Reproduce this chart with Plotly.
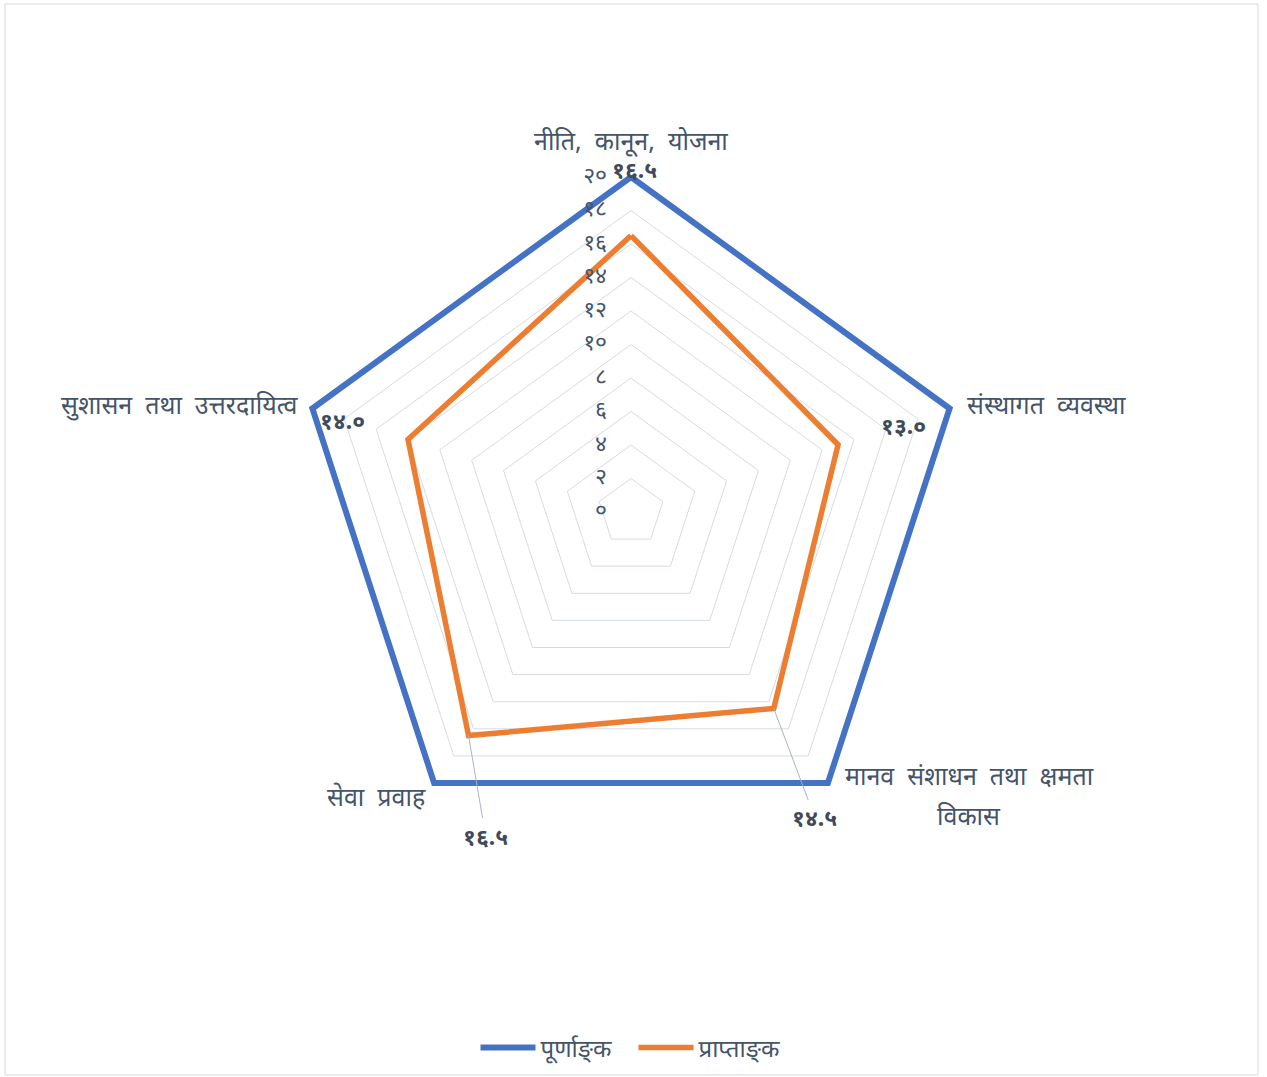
import math
import plotly.graph_objects as go

# ---------------- data ----------------
categories = ["नीति, कानून, योजना", "संस्थागत व्यवस्था", "मानव संशाधन तथा क्षमता विकास",
              "सेवा प्रवाह", "सुशासन तथा उत्तरदायित्व"]
full_marks = [20, 20, 20, 20, 20]
obtained = [16.5, 13.0, 14.5, 16.5, 14.0]
series_names = ["पूर्णाङ्\u200cक", "प्राप्ताङ्\u200cक"]
radial_ticks = list(range(0, 21, 2))

DEV = str.maketrans("0123456789", "०१२३४५६७८९")
def dev(s):
    return str(s).translate(DEV)

def wide(s):
    return s.replace(" ", "\u00a0\u00a0")

# ---------------- layout constants ----------------
W, H = 1267, 1077
CX, CY, R = 631, 512, 335          # R = pixel radius of value 20
RMAX = 20.4                         # small headroom so the outer line is not clipped
RD = R * RMAX / 20
FONT = "Noto Sans, Lato, sans-serif"
TXT = "#44546A"

def px(x, y):
    return x / W, 1 - y / H

fig = go.Figure()
th = categories + [categories[0]]
fig.add_trace(go.Scatterpolar(r=full_marks + [full_marks[0]], theta=th, mode="lines",
                              name=series_names[0], cliponaxis=False,
                              line=dict(color="#4472C4", width=6)))
fig.add_trace(go.Scatterpolar(r=obtained + [obtained[0]], theta=th, mode="lines",
                              name=series_names[1], cliponaxis=False,
                              line=dict(color="#ED7D31", width=5.5)))
# radial tick labels drawn on top of the lines
fig.add_trace(go.Scatterpolar(r=[max(t, 0.01) for t in radial_ticks],
                              theta=[categories[0]] * len(radial_ticks),
                              mode="text",
                              text=[dev(t) + "\u00a0\u00a0\u00a0\u00a0" for t in radial_ticks],
                              textposition="middle left", cliponaxis=False,
                              textfont=dict(size=23, color=TXT, family=FONT),
                              showlegend=False, hoverinfo="skip"))

dx0, dx1 = (CX - RD) / W, (CX + RD) / W
dy0, dy1 = 1 - (CY + RD) / H, 1 - (CY - RD) / H

fig.update_layout(
    width=W, height=H, margin=dict(l=0, r=0, t=0, b=0),
    paper_bgcolor="white", plot_bgcolor="white",
    font=dict(family=FONT, color=TXT),
    polar=dict(
        domain=dict(x=[dx0, dx1], y=[dy0, dy1]),
        bgcolor="rgba(0,0,0,0)",
        gridshape="linear",
        radialaxis=dict(range=[0, RMAX], tickvals=radial_ticks, showticklabels=False,
                        angle=90, showline=False, ticks="", gridcolor="#D6DCE4", gridwidth=1,
                        layer="below traces"),
        angularaxis=dict(rotation=90, direction="clockwise", showgrid=False,
                         showline=False, ticks="",
                         layer="below traces", showticklabels=False),
    ),
    legend=dict(orientation="h", x=0.5, xanchor="center", y=1 - 1048 / H, yanchor="middle",
                font=dict(size=24, color=TXT, family=FONT), itemwidth=55,
                entrywidth=88, entrywidthmode="pixels", traceorder="normal"),
)

annotations = []
# category labels
cat_pos = [
    (631, 140, "center", categories[0]),
    (965, 404, "left", categories[1]),
    (969, 775, "center", "मानव संशाधन तथा क्षमता"),
    (969, 815, "center", "विकास"),
    (428, 796, "right", categories[3]),
    (300, 404, "right", categories[4]),
]
for x, y, anc, t in cat_pos:
    xp, yp = px(x, y)
    annotations.append(dict(x=xp, y=yp, xref="paper", yref="paper", text=wide(t), showarrow=False,
                            xanchor=anc, yanchor="middle",
                            font=dict(size=25, color=TXT, family=FONT)))

# data labels for obtained marks
offsets = [(3, -67, False), (65, -20, False), (41, 109, True), (17, 100, True), (-65, -20, False)]
for i, v in enumerate(obtained):
    ang = math.radians(90 - 72 * i)
    vx = CX + v / 20 * R * math.cos(ang)
    vy = CY - v / 20 * R * math.sin(ang)
    ox, oy, arrow = offsets[i]
    txt = "<b>" + dev(f"{v:.1f}") + "</b>"
    xp, yp = px(vx, vy)
    f = dict(size=23, color="#3F4A5A", family=FONT)
    if arrow:
        annotations.append(dict(x=xp, y=yp, xref="paper", yref="paper", text=txt,
                                showarrow=True, arrowhead=0, arrowwidth=1,
                                arrowcolor="#A9B4C4", ax=ox, ay=oy, standoff=0, font=f))
    else:
        annotations.append(dict(x=xp, y=yp, xref="paper", yref="paper", text=txt,
                                showarrow=False, xanchor="center", yanchor="middle",
                                xshift=ox, yshift=-oy, font=f))

fig.update_layout(annotations=annotations)

# chart border
fig.add_shape(type="rect", xref="paper", yref="paper",
              x0=5 / W, x1=1258 / W, y0=1 - 1075 / H, y1=1 - 4 / H,
              line=dict(color="#D9D9D9", width=1))

fig.write_html("out.html", config={"displayModeBar": False},
               post_script="document.body.style.margin='0';")
